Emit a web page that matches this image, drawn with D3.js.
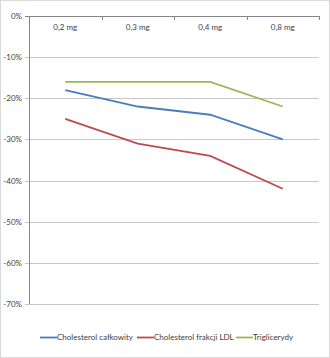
<!DOCTYPE html>
<html>
<head>
<meta charset="utf-8">
<script src="https://cdn.jsdelivr.net/npm/d3@7"></script>
<style>
  body { margin: 0; background: #fff; }
  svg { display: block; font-family: Lato, "Open Sans", "Liberation Sans", sans-serif; }
</style>
</head>
<body>
<div id="chart"></div>
<script>
// Chart data
const doses = ['0,2 mg', '0,3 mg', '0,4 mg', '0,8 mg'];
const cholTotal = [-18, -22, -24, -30];
const cholLdl = [-25, -31, -34, -42];
const triglycerides = [-16, -16, -16, -22];
const yTicks = [0, -10, -20, -30, -40, -50, -60, -70];
const seriesNames = ['Cholesterol całkowity', 'Cholesterol frakcji LDL', 'Triglicerydy'];

function drawChart() {
    const width = 330, height = 358;
    const plot = { left: 29, right: 319, top: 16, bottom: 304 };
    const colors = ['#4a7ebb', '#be4b48', '#98b954'];
    const series = [cholTotal, cholLdl, triglycerides];

    const svg = d3.select('#chart').append('svg')
        .attr('width', width)
        .attr('height', height);

    // outer frame
    svg.append('rect')
        .attr('x', 0.5).attr('y', 0.5)
        .attr('width', width - 1).attr('height', height - 1)
        .attr('fill', '#fff')
        .attr('stroke', '#d9d9d9');

    const x = d3.scaleBand()
        .domain(doses)
        .range([plot.left, plot.right]);

    const y = d3.scaleLinear()
        .domain([0, -70])
        .range([plot.top, plot.bottom]);

    // gridlines
    svg.append('g')
        .selectAll('line')
        .data(yTicks)
        .join('line')
        .attr('x1', plot.left - 4)
        .attr('x2', plot.right)
        .attr('y1', d => Math.round(y(d)) + 0.5)
        .attr('y2', d => Math.round(y(d)) + 0.5)
        .attr('stroke', d => d === 0 ? '#868686' : '#c8c8c8')
        .attr('stroke-width', 1);

    // y axis line
    svg.append('line')
        .attr('x1', plot.left + 0.5).attr('x2', plot.left + 0.5)
        .attr('y1', plot.top).attr('y2', plot.bottom)
        .attr('stroke', '#868686');

    // y labels
    svg.append('g')
        .selectAll('text')
        .data(yTicks)
        .join('text')
        .attr('x', plot.left - 7)
        .attr('y', d => y(d) + 3)
        .attr('text-anchor', 'end')
        .attr('font-size', 8)
        .attr('fill', '#404040')
        .text(d => d + '%');

    // category ticks on the 0% line
    svg.append('g')
        .selectAll('line')
        .data(doses)
        .join('line')
        .attr('x1', d => Math.round(x(d) + x.bandwidth()) + 0.5)
        .attr('x2', d => Math.round(x(d) + x.bandwidth()) + 0.5)
        .attr('y1', plot.top)
        .attr('y2', plot.top + 4)
        .attr('stroke', '#868686');

    // category labels
    svg.append('g')
        .selectAll('text')
        .data(doses)
        .join('text')
        .attr('x', d => x(d) + x.bandwidth() / 2)
        .attr('y', 30)
        .attr('text-anchor', 'middle')
        .attr('font-size', 8)
        .attr('fill', '#404040')
        .text(d => d);

    // lines
    const line = d3.line()
        .x((d, i) => x(doses[i]) + x.bandwidth() / 2)
        .y(d => y(d));

    svg.append('g')
        .selectAll('path')
        .data(series)
        .join('path')
        .attr('d', d => line(d))
        .attr('fill', 'none')
        .attr('stroke', (d, i) => colors[i])
        .attr('stroke-width', 1.8);

    // legend
    const legendX = [40, 137, 236];
    const legend = svg.append('g');
    legend.selectAll('g')
        .data(seriesNames)
        .join('g')
        .attr('transform', (d, i) => `translate(${legendX[i]}, 337)`)
        .call(g => {
            g.append('line')
                .attr('x1', 0).attr('x2', 17)
                .attr('y1', 0.5).attr('y2', 0.5)
                .attr('stroke', (d, i) => colors[i])
                .attr('stroke-width', 1.8);
            g.append('text')
                .attr('x', 17)
                .attr('y', 3)
                .attr('font-size', 8)
                .attr('fill', '#404040')
                .text(d => d);
        });
}

drawChart();
</script>
</body>
</html>
